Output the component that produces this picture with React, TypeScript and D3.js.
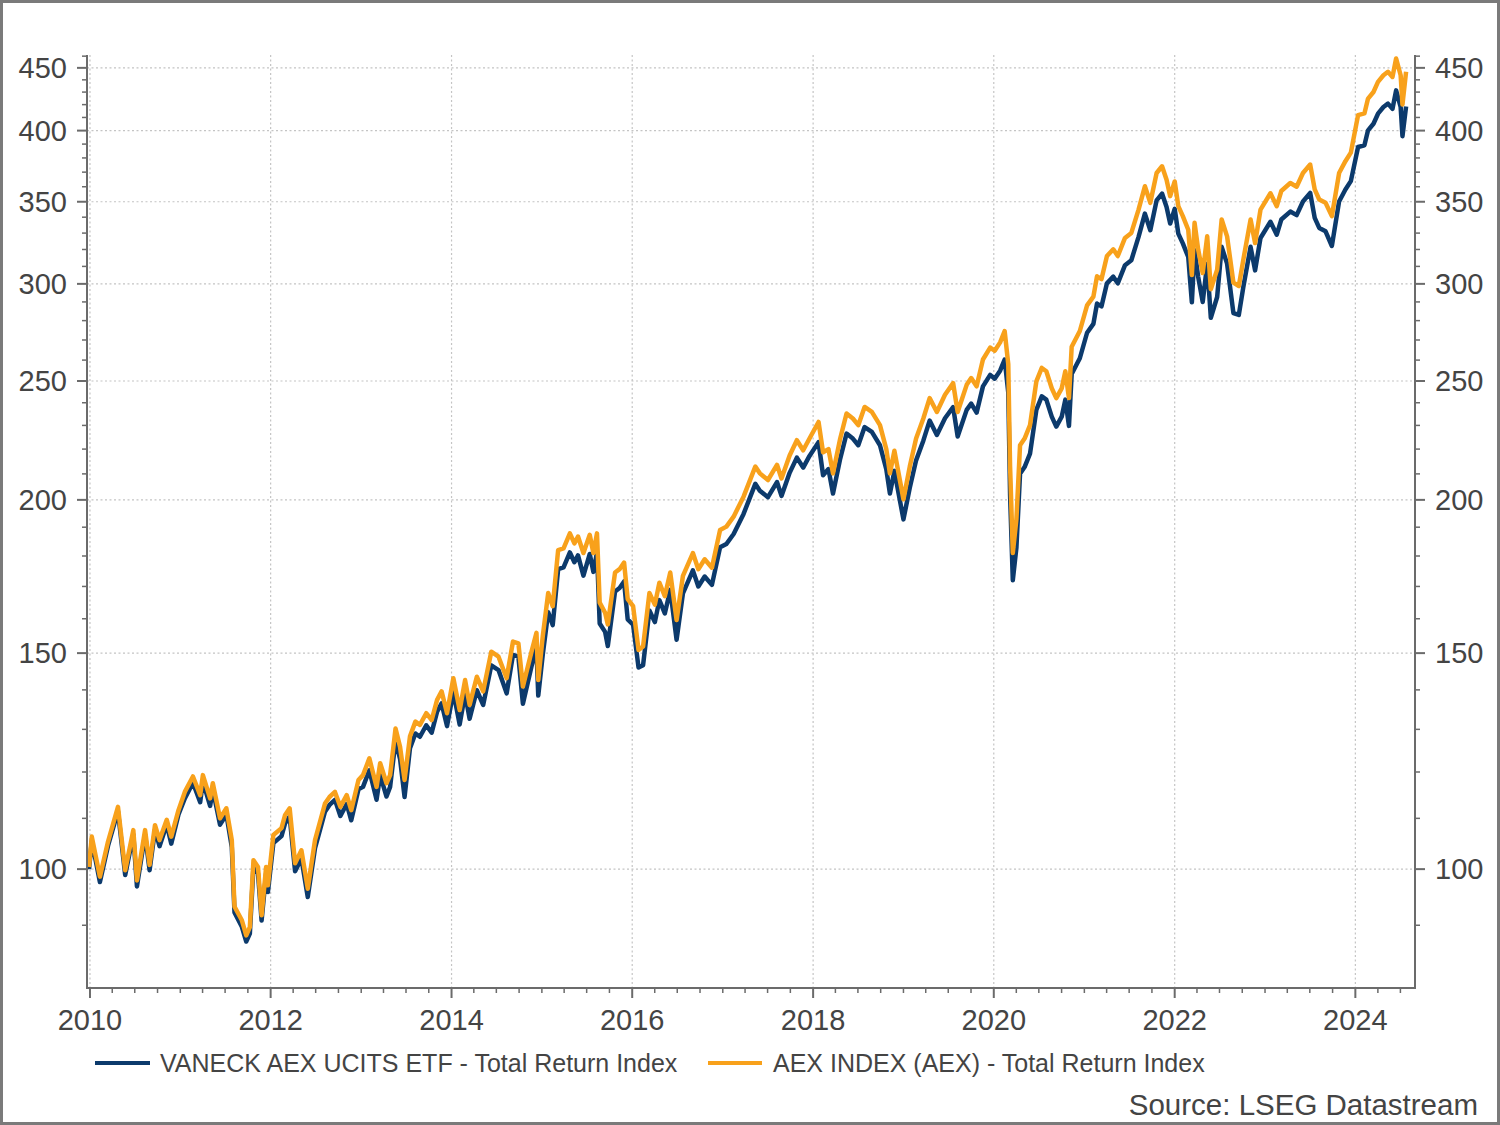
import React from "react";
import * as d3 from "d3";

// Decimal-year time stamps
const times = [
  2009.99, 2010.02, 2010.11, 2010.20, 2010.31, 2010.39, 2010.48, 2010.52, 2010.61, 2010.66,
  2010.72, 2010.77, 2010.85, 2010.90, 2010.98, 2011.05, 2011.14, 2011.22, 2011.25, 2011.33,
  2011.36, 2011.44, 2011.51, 2011.57, 2011.60, 2011.68, 2011.73, 2011.77, 2011.81, 2011.86,
  2011.90, 2011.95, 2011.97, 2012.03, 2012.12, 2012.16, 2012.21, 2012.27, 2012.34, 2012.41,
  2012.49, 2012.60, 2012.65, 2012.71, 2012.77, 2012.84, 2012.89, 2012.97, 2013.02, 2013.09,
  2013.17, 2013.21, 2013.28, 2013.32, 2013.38, 2013.43, 2013.48, 2013.54, 2013.60, 2013.65,
  2013.72, 2013.78, 2013.84, 2013.89, 2013.95, 2014.02, 2014.09, 2014.15, 2014.20, 2014.28,
  2014.35, 2014.44, 2014.52, 2014.61, 2014.68, 2014.74, 2014.79, 2014.89, 2014.94, 2014.96,
  2015.01, 2015.07, 2015.12, 2015.18, 2015.24, 2015.31, 2015.36, 2015.40, 2015.46, 2015.53,
  2015.57, 2015.61, 2015.64, 2015.70, 2015.73, 2015.81, 2015.86, 2015.91, 2015.95, 2016.01,
  2016.07, 2016.12, 2016.19, 2016.25, 2016.30, 2016.36, 2016.42, 2016.49, 2016.56, 2016.67,
  2016.73, 2016.80, 2016.88, 2016.97, 2017.04, 2017.12, 2017.23, 2017.36, 2017.41, 2017.50,
  2017.60, 2017.65, 2017.74, 2017.82, 2017.89, 2017.96, 2018.06, 2018.11, 2018.17, 2018.22,
  2018.30, 2018.37, 2018.44, 2018.50, 2018.57, 2018.65, 2018.74, 2018.81, 2018.85, 2018.90,
  2018.96, 2019.00, 2019.07, 2019.14, 2019.22, 2019.29, 2019.37, 2019.46, 2019.55, 2019.60,
  2019.70, 2019.75, 2019.81, 2019.88, 2019.96, 2020.01, 2020.07, 2020.12, 2020.16, 2020.18,
  2020.21, 2020.25, 2020.29, 2020.34, 2020.40, 2020.47, 2020.53, 2020.58, 2020.64, 2020.69,
  2020.75, 2020.79, 2020.83, 2020.86, 2020.95, 2021.03, 2021.10, 2021.14, 2021.19, 2021.25,
  2021.32, 2021.37, 2021.45, 2021.52, 2021.60, 2021.67, 2021.73, 2021.80, 2021.86, 2021.91,
  2021.95, 2022.00, 2022.04, 2022.09, 2022.15, 2022.19, 2022.22, 2022.26, 2022.31, 2022.36,
  2022.40, 2022.47, 2022.52, 2022.58, 2022.65, 2022.71, 2022.76, 2022.84, 2022.89, 2022.95,
  2023.06, 2023.13, 2023.18, 2023.28, 2023.35, 2023.42, 2023.50, 2023.55, 2023.60, 2023.67,
  2023.74, 2023.82, 2023.89, 2023.95, 2024.03, 2024.10, 2024.14, 2024.20, 2024.25, 2024.31,
  2024.36, 2024.41, 2024.45, 2024.50, 2024.52, 2024.56,
];

// AEX INDEX (AEX) - Total Return Index
const aexValues = [
  100.4, 106.3, 98.6, 105.3, 112.4, 99.8, 107.6, 97.9, 107.6, 100.8,
  108.6, 105.6, 109.7, 106.3, 111.7, 115.6, 119.0, 114.9, 119.3, 114.2,
  117.5, 110.0, 112.1, 105.6, 93.2, 90.9, 88.3, 89.7, 101.7, 100.4,
  91.7, 100.4, 97.0, 106.6, 108.0, 110.7, 112.1, 101.1, 103.6, 96.4,
  105.6, 113.1, 114.5, 115.6, 112.4, 114.9, 111.7, 118.2, 119.3, 123.1,
  116.7, 122.0, 117.5, 119.3, 130.2, 125.8, 118.2, 128.3, 131.9, 131.1,
  134.0, 132.3, 137.4, 139.6, 134.0, 143.1, 134.8, 142.6, 136.1, 143.5,
  139.6, 150.4, 149.0, 143.1, 153.3, 152.8, 140.9, 150.9, 155.8, 142.6,
  154.9, 167.9, 163.8, 182.0, 182.6, 187.8, 184.3, 186.7, 181.0, 187.3,
  181.0, 187.8, 164.9, 161.8, 158.3, 174.5, 175.6, 177.8, 166.0, 163.8,
  150.9, 151.9, 167.9, 164.3, 171.2, 166.9, 174.5, 159.6, 173.4, 181.0,
  175.6, 178.9, 176.1, 189.0, 190.2, 193.8, 201.2, 212.9, 210.2, 207.6,
  213.6, 208.2, 217.4, 223.7, 219.5, 224.4, 231.5, 218.7, 220.0, 210.2,
  224.4, 235.2, 233.0, 230.1, 238.1, 235.9, 230.1, 220.0, 210.2, 219.3,
  207.6, 200.2, 212.9, 224.4, 233.0, 242.1, 235.9, 243.6, 249.0, 235.9,
  248.2, 251.4, 247.5, 260.3, 266.2, 264.6, 268.8, 274.6, 258.0, 212.9,
  181.0, 192.9, 221.6, 224.4, 230.1, 249.8, 256.2, 254.6, 246.6, 242.1,
  246.6, 254.6, 242.1, 266.6, 274.6, 288.1, 292.9, 304.3, 302.7, 316.1,
  320.1, 316.1, 327.0, 330.1, 344.9, 360.3, 349.3, 369.4, 374.1, 364.8,
  353.7, 363.6, 347.1, 340.7, 332.1, 305.0, 336.4, 320.0, 306.2, 328.0,
  297.0, 308.1, 338.5, 328.0, 300.7, 298.8, 314.0, 338.5, 323.9, 344.9,
  355.6, 347.1, 357.1, 362.5, 360.0, 369.4, 375.3, 358.2, 351.5, 349.3,
  340.7, 369.4, 377.7, 383.8, 411.8, 413.1, 424.8, 430.1, 438.3, 443.8,
  446.7, 442.4, 458.0, 443.8, 420.0, 446.7,
];

// VANECK AEX UCITS ETF - Total Return Index
const vaneckValues = [
  100.0, 105.5, 97.6, 104.5, 111.5, 98.9, 106.7, 96.8, 106.7, 99.8,
  107.7, 104.4, 108.8, 104.9, 110.8, 114.2, 117.6, 113.4, 117.9, 112.6,
  116.1, 108.7, 110.8, 104.2, 92.2, 89.8, 87.3, 88.6, 100.5, 99.2,
  90.8, 99.2, 95.8, 105.0, 106.4, 109.0, 110.4, 99.6, 102.0, 94.9,
  104.0, 111.4, 112.8, 113.9, 110.5, 113.0, 109.6, 116.2, 116.7, 120.4,
  113.9, 119.3, 114.6, 116.7, 127.3, 123.0, 114.5, 125.5, 129.0, 128.2,
  131.0, 129.2, 134.4, 136.5, 130.8, 139.5, 131.2, 139.0, 132.6, 139.9,
  136.1, 146.6, 145.3, 139.1, 149.5, 149.0, 136.4, 146.8, 151.5, 138.5,
  149.6, 162.0, 158.1, 175.6, 176.2, 181.2, 177.9, 180.2, 173.5, 180.7,
  174.7, 181.2, 158.6, 156.1, 152.0, 168.4, 169.5, 171.6, 159.8, 158.2,
  146.0, 146.6, 162.5, 159.0, 165.7, 161.6, 168.9, 153.8, 167.8, 175.2,
  170.0, 173.2, 170.5, 183.0, 184.1, 187.6, 194.8, 206.1, 203.5, 201.0,
  206.8, 201.5, 210.4, 216.5, 212.5, 217.2, 222.9, 209.5, 211.9, 202.4,
  216.1, 226.5, 224.4, 221.6, 229.3, 227.2, 221.6, 211.9, 202.4, 211.2,
  199.9, 192.8, 204.6, 215.4, 223.5, 232.1, 225.9, 233.1, 238.0, 225.3,
  236.8, 239.6, 235.6, 247.5, 252.9, 251.1, 254.9, 260.3, 244.6, 201.8,
  172.0, 182.9, 210.1, 212.7, 218.1, 236.8, 242.9, 241.4, 233.8, 229.5,
  233.8, 241.4, 229.8, 253.3, 260.9, 273.7, 278.3, 289.1, 287.6, 300.3,
  304.1, 300.3, 310.7, 313.6, 327.7, 342.3, 331.8, 350.9, 355.4, 346.6,
  336.0, 345.4, 329.7, 323.7, 315.5, 289.8, 319.6, 304.0, 290.0, 311.6,
  281.5, 292.7, 321.6, 311.6, 284.0, 283.0, 298.3, 321.6, 307.7, 327.0,
  337.1, 329.0, 338.5, 343.6, 341.3, 350.2, 355.8, 339.6, 333.2, 331.1,
  322.1, 350.2, 358.1, 363.8, 387.9, 389.1, 400.2, 405.2, 412.9, 418.1,
  420.8, 416.7, 431.4, 418.1, 395.8, 418.6,
];

const yMajorTicks = [100, 150, 200, 250, 300, 350, 400, 450];
const xMajorYears = [2010, 2012, 2014, 2016, 2018, 2020, 2022, 2024];
const seriesNames = [
  "VANECK AEX UCITS ETF - Total Return Index",
  "AEX INDEX (AEX) - Total Return Index",
];
const seriesColors = ["#0c3a6c", "#f8a11b"];
const sourceText = "Source: LSEG Datastream";

function decToDate(t: number): Date {
  const y = Math.floor(t);
  const start = new Date(y, 0, 1).getTime();
  const end = new Date(y + 1, 0, 1).getTime();
  return new Date(start + (t - y) * (end - start));
}

export default function App() {
  const W = 1500;
  const H = 1125;
  const left = 87;
  const right = 1415;
  const top = 55;
  const bottom = 988;

  const x = d3
    .scaleTime()
    .domain([new Date(2009, 11, 20), new Date(2024, 7, 29)])
    .range([left, right]);
  const y = d3.scaleLog().domain([80, 461]).range([bottom, top]);

  const dates = times.map(decToDate);
  const line = d3
    .line<number>()
    .x((_, i) => x(dates[i]))
    .y((v) => y(v))
    .curve(d3.curveLinear);

  const minorY: number[] = [];
  for (let v = 90; v <= 460; v += 10) {
    if (!yMajorTicks.includes(v)) minorY.push(v);
  }
  const quarterTicks: Date[] = d3.timeMonth
    .every(3)!
    .range(new Date(2010, 0, 1), new Date(2024, 7, 29));
  const minorX = quarterTicks.filter(
    (d) => !(d.getMonth() === 0 && d.getFullYear() % 2 === 0)
  );

  const font = "'Liberation Sans', Arial, sans-serif";
  const axisColor = "#6b6b6b";
  const textColor = "#444";

  return (
    <svg
      width={W}
      height={H}
      style={{ position: "absolute", left: 0, top: 0, background: "#fff" }}
      fontFamily={font}
    >
      <rect x={0} y={0} width={W} height={H} fill="#fff" />
      <rect x={1.5} y={1.5} width={W - 3} height={H - 3} fill="none" stroke="#7a7a7a" strokeWidth={3} />

      {/* grid */}
      {yMajorTicks.map((v) => (
        <line key={"gy" + v} x1={left} x2={right} y1={y(v)} y2={y(v)} stroke="#c4c4c4" strokeWidth={1.2} strokeDasharray="2,2.5" />
      ))}
      {xMajorYears.map((yr) => (
        <line key={"gx" + yr} x1={x(new Date(yr, 0, 1))} x2={x(new Date(yr, 0, 1))} y1={top} y2={bottom} stroke="#c4c4c4" strokeWidth={1.2} strokeDasharray="2,2.5" />
      ))}

      {/* series */}
      <path d={line(vaneckValues) || ""} fill="none" stroke={seriesColors[0]} strokeWidth={4.5} strokeLinejoin="round" />
      <path d={line(aexValues) || ""} fill="none" stroke={seriesColors[1]} strokeWidth={4.5} strokeLinejoin="round" />

      {/* axes */}
      <line x1={left} x2={left} y1={top} y2={bottom} stroke={axisColor} strokeWidth={2} />
      <line x1={right} x2={right} y1={top} y2={bottom} stroke={axisColor} strokeWidth={2} />
      <line x1={left - 1} x2={right + 1} y1={bottom} y2={bottom} stroke={axisColor} strokeWidth={2} />

      {yMajorTicks.map((v) => (
        <g key={"yt" + v}>
          <line x1={left - 10} x2={left} y1={y(v)} y2={y(v)} stroke={axisColor} strokeWidth={2} />
          <line x1={right} x2={right + 10} y1={y(v)} y2={y(v)} stroke={axisColor} strokeWidth={2} />
          <text x={left - 20} y={y(v)} dy="0.35em" textAnchor="end" fontSize={29} fill={textColor}>
            {v}
          </text>
          <text x={right + 20} y={y(v)} dy="0.35em" textAnchor="start" fontSize={29} fill={textColor}>
            {v}
          </text>
        </g>
      ))}
      {minorY.map((v) => (
        <g key={"ym" + v}>
          <line x1={left - 5} x2={left} y1={y(v)} y2={y(v)} stroke={axisColor} strokeWidth={1.5} />
          <line x1={right} x2={right + 5} y1={y(v)} y2={y(v)} stroke={axisColor} strokeWidth={1.5} />
        </g>
      ))}

      {xMajorYears.map((yr) => {
        const px = x(new Date(yr, 0, 1));
        return (
          <g key={"xt" + yr}>
            <line x1={px} x2={px} y1={bottom} y2={bottom + 10} stroke={axisColor} strokeWidth={2} />
            <text x={px} y={bottom + 42} textAnchor="middle" fontSize={29} fill={textColor}>
              {yr}
            </text>
          </g>
        );
      })}
      {minorX.map((d, i) => (
        <line key={"xm" + i} x1={x(d)} x2={x(d)} y1={bottom} y2={bottom + 5} stroke={axisColor} strokeWidth={1.5} />
      ))}

      {/* legend */}
      <line x1={95} x2={150} y1={1063} y2={1063} stroke={seriesColors[0]} strokeWidth={4} />
      <text x={160} y={1072} fontSize={25} fill={textColor}>
        {seriesNames[0]}
      </text>
      <line x1={708} x2={762} y1={1063} y2={1063} stroke={seriesColors[1]} strokeWidth={4} />
      <text x={773} y={1072} fontSize={25} fill={textColor}>
        {seriesNames[1]}
      </text>

      <text x={1478} y={1115} textAnchor="end" fontSize={29.5} fill={textColor}>
        {sourceText}
      </text>
    </svg>
  );
}
